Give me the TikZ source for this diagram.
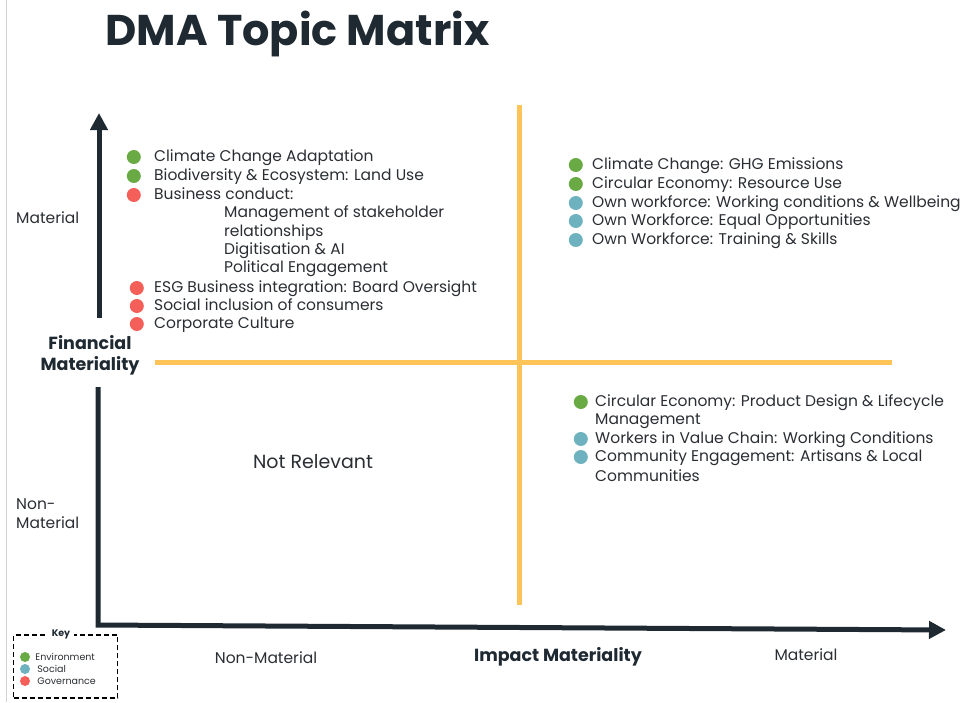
\documentclass[tikz,border=0pt]{standalone}
\usepackage{fontspec}
\setmainfont{Poppins}
\usepackage{tikz}
\usetikzlibrary{positioning}
\usetikzlibrary{arrows.meta}
\definecolor{envgreen}{HTML}{6AAA45}
\definecolor{socteal}{HTML}{6DB2BE}
\definecolor{govred}{HTML}{F45F5A}
\definecolor{axisnavy}{HTML}{1F2932}
\definecolor{quadyellow}{HTML}{FFC457}
\definecolor{inktext}{HTML}{2A2E33}
\tikzset{env dot/.style={circle,fill=envgreen,minimum size=14pt,inner sep=0pt},
         soc dot/.style={circle,fill=socteal,minimum size=14pt,inner sep=0pt},
         gov dot/.style={circle,fill=govred,minimum size=14pt,inner sep=0pt},
         topic/.style={anchor=west,inner sep=0pt,text height=11pt,text depth=2pt,text=inktext,font=\fontsize{15.5}{18.5}\selectfont},
         axis label/.style={inner sep=0pt,text=inktext,font=\fontsize{15.5}{19}\selectfont},
         axis title/.style={inner sep=0pt,align=center,text=axisnavy,font=\bfseries\fontsize{17.5}{21}\selectfont},
         axis line/.style={draw=axisnavy,line width=5pt},
         quad line/.style={draw=quadyellow,line width=5pt},
         key dot/.style={circle,inner sep=0pt,minimum size=10pt},
         key text/.style={anchor=west,inner sep=0pt,text=inktext,font=\fontsize{9.5}{10}\selectfont},}

\begin{document}
\begin{tikzpicture}[x=1pt, y=-1pt, >={Triangle[length=17pt,width=17pt]}]
    \useasboundingbox (0,0) rectangle (960,702);
    \draw[black!18, line width=1pt] (6,0) -- (6,702);

    \node[inner sep=0pt, text=axisnavy, font=\bfseries\fontsize{43}{46}\selectfont] (title) at (297.5,34) {DMA Topic Matrix};

    % quadrant dividers
    \coordinate (qtop) at (519,105);
    \coordinate (qbot) at (519,605);
    \coordinate (qleft) at (155,362);
    \coordinate (qright) at (892,362);
    \draw[quad line] (qtop) -- (qbot);
    \draw[quad line] (qleft) -- (qright);

    % axes
    \coordinate (origin) at (98,625);
    \coordinate (xtip) at (946,630);
    \coordinate (ytip) at (99,113);
    \coordinate (ygaptop) at (99,318);
    \coordinate (ygapbot) at (98,387);
    \draw[axis line, ->] (ygapbot) -- (origin) -- (xtip);
    \draw[axis line, ->] (ygaptop) -- (ytip);

    \node[axis title] (fin) at (90,355) {Financial\\Materiality};
    \node[axis title] (imp) at (558,657) {Impact Materiality};
    \node[axis label, anchor=west] (ymat) at (16,218) {Material};
    \node[axis label, anchor=west, align=left] (ynon) at (16,514) {Non-\\Material};
    \node[axis label] (xnon) at (266,658) {Non-Material};
    \node[axis label] (xmat) at (806,655) {Material};
    \node[axis label, font=\fontsize{19}{22}\selectfont] (notrel) at (313,462) {Not Relevant};

    % financial only
    \node[topic] (cca) at (154,157) {Climate Change Adaptation};
    \node[topic] (bio) at (154,176) {Biodiversity \& Ecosystem: Land Use};
    \node[topic] (bus) at (154,195) {Business conduct:};
    \node[topic] (stake) at (224,213) {Management of stakeholder};
    \node[topic] (rel) at (224,232) {relationships};
    \node[topic] (digi) at (224,250) {Digitisation \& AI};
    \node[topic] (pol) at (224,268) {Political Engagement};
    \node[topic] (esg) at (154,288) {ESG Business integration: Board Oversight};
    \node[topic] (incl) at (154,306) {Social inclusion of consumers};
    \node[topic] (cult) at (154,324) {Corporate Culture};
    \node[env dot] (cca dot) [left = 13pt of cca] {};
    \node[env dot] (bio dot) [left = 13pt of bio] {};
    \node[gov dot] (bus dot) [left = 13pt of bus] {};
    \node[gov dot] (esg dot) [left = 10pt of esg] {};
    \node[gov dot] (incl dot) [left = 10pt of incl] {};
    \node[gov dot] (cult dot) [left = 10pt of cult] {};

    % double material
    \node[topic] (ghg) at (592,165) {Climate Change: GHG Emissions};
    \node[topic] (res) at (592,184) {Circular Economy: Resource Use};
    \node[topic] (wc) at (592,203) {Own workforce: Working conditions \& Wellbeing};
    \node[topic] (eq) at (592,221) {Own Workforce: Equal Opportunities};
    \node[topic] (tr) at (592,240) {Own Workforce: Training \& Skills};
    \node[env dot] (ghg dot) [left = 9pt of ghg] {};
    \node[env dot] (res dot) [left = 9pt of res] {};
    \node[soc dot] (wc dot) [left = 9pt of wc] {};
    \node[soc dot] (eq dot) [left = 9pt of eq] {};
    \node[soc dot] (tr dot) [left = 9pt of tr] {};

    % impact only
    \node[topic] (pd) at (595,402) {Circular Economy: Product Design \& Lifecycle};
    \node[topic] (pdm) at (595,420) {Management};
    \node[topic] (vc) at (595,439) {Workers in Value Chain: Working Conditions};
    \node[topic] (comm) at (595,457) {Community Engagement: Artisans \& Local};
    \node[topic] (commu) at (595,477) {Communities};
    \node[env dot] (pd dot) [left = 7pt of pd] {};
    \node[soc dot] (vc dot) [left = 7pt of vc] {};
    \node[soc dot] (comm dot) [left = 7pt of comm] {};

    % key
    \node[draw=black, line width=1.3pt, dash pattern=on 5pt off 3pt, minimum width=104pt, minimum height=63pt] (key) at (65.5,666.5) {};
    \node[fill=white, inner sep=4pt, text=axisnavy, font=\bfseries\fontsize{9.5}{10}\selectfont] (key title) at (61,634) {Key};
    \node[key dot, fill=envgreen] (env key) at (25,657) {};
    \node[key dot, fill=socteal] (soc key) at (25,669) {};
    \node[key dot, fill=govred] (gov key) at (25,681) {};
    \node[key text] (env name) [right = 5pt of env key] {Environment};
    \node[key text] (soc name) [right = 7pt of soc key] {Social};
    \node[key text] (gov name) [right = 7pt of gov key] {Governance};
\end{tikzpicture}
\end{document}
